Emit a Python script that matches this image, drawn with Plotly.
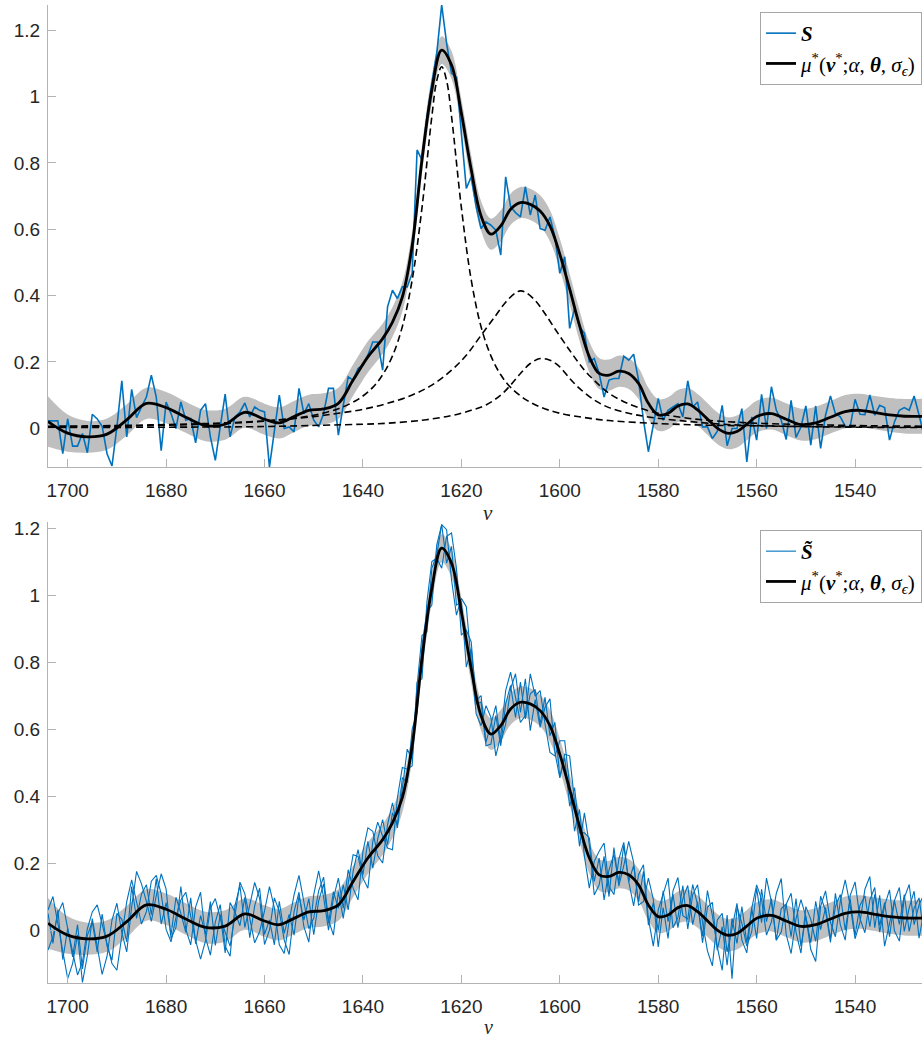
import plotly.graph_objects as go

# ---------------- data ----------------
wavenumber = list(range(1704, 1525, -1))  # 1704 ... 1526

S_top = [0.022, 0.022, 0.022, -0.077, 0.028, -0.054, -0.054, -0.016, -0.074, 0.042,
         0.028, 0.006, -0.077, -0.114, 0.004, 0.143, -0.026, 0.117, 0.032, 0.064,
         0.094, 0.160, 0.094, -0.068, 0.079, 0.044, -0.001, 0.079, 0.024, 0.029,
         -0.044, 0.054, 0.074, -0.026, -0.097, 0.004, 0.103, -0.026, 0.034, 0.049,
         0.076, 0.034, 0.064, 0.054, 0.049, -0.117, -0.01, 0.1, -0.001, 0.004,
         -0.011, 0.12, 0.044, 0.074, 0.024, 0.004, 0.044, 0.12, 0.12, -0.021,
         0.069, 0.155, 0.145, 0.18, 0.19, 0.22, 0.26, 0.26, 0.175, 0.366,
         0.416, 0.391, 0.426, 0.426, 0.467, 0.839, 0.808, 0.939, 1.04, 1.13,
         1.276, 1.16, 1.07, 1.058, 0.889, 0.723, 0.758, 0.668, 0.602, 0.622,
         0.612, 0.597, 0.522, 0.758, 0.668, 0.65, 0.637, 0.728, 0.643, 0.703,
         0.602, 0.597, 0.637, 0.577, 0.467, 0.517, 0.301, 0.361, 0.306, 0.286,
         0.2, 0.21, 0.165, 0.094, 0.145, 0.15, 0.15, 0.217, 0.205, 0.223,
         0.145, 0.024, -0.071, 0.004, 0.09, 0.024, 0.054, 0.064, 0.074, 0.034,
         0.143, 0.064, 0.079, 0.004, 0.004, -0.031, -0.01, 0.069, -0.053, -0.001,
         -0.001, 0.059, -0.102, 0.034, -0.036, 0.102, -0.001, 0.125, 0.054, 0.024,
         -0.034, 0.084, -0.028, 0.004, 0.067, -0.051, 0.067, -0.061, 0.039, 0.097,
         0.044, 0.034, 0.006, 0.004, 0.087, 0.042, 0.041, 0.1, 0.039, 0.069,
         0.062, -0.036, 0.019, 0.054, 0.062, 0.054, 0.097, 0.04, -0.021]

S_rep1 = [0.05, -0.04, 0.06, -0.088, 0.005, -0.08, 0.016, -0.116, -0.016, 0.024,
          -0.065, 0.048, -0.048, -0.09, 0.05, 0.032, -0.035, 0.13, 0.035, 0.108,
          0.135, 0.046, 0.153, 0.018, 0.082, -0.015, 0.098, 0.05, -0.007, 0.096,
          -0.041, 0.043, -0.012, 0.085, -0.046, 0.046, -0.068, 0.082, 0.053, 0.013,
          0.098, -0.023, 0.072, 0.125, -0.013, 0.03, -0.044, 0.086, -0.01, 0.047,
          -0.015, 0.103, 0.03, 0.094, -0.014, 0.087, 0.138, 0.02, 0.115, 0.065,
          0.135, 0.06, 0.175, 0.24, 0.165, 0.265, 0.185, 0.272, 0.33, 0.255,
          0.35, 0.315, 0.455, 0.44, 0.6, 0.65, 0.85, 0.95, 0.97, 1.15,
          1.21, 1.095, 1.145, 0.97, 0.98, 0.785, 0.84, 0.675, 0.68, 0.55,
          0.555, 0.64, 0.55, 0.675, 0.73, 0.635, 0.74, 0.63, 0.705, 0.718,
          0.615, 0.695, 0.58, 0.62, 0.455, 0.515, 0.37, 0.425, 0.29, 0.29,
          0.275, 0.145, 0.215, 0.09, 0.18, 0.226, 0.142, 0.252, 0.145, 0.192,
          0.085, 0.175, 0.015, 0.082, 0.0, 0.117, 0.025, 0.107, 0.007, 0.093,
          0.133, 0.016, 0.085, -0.038, 0.068, 0.083, -0.06, 0.01, -0.105, 0.035,
          -0.04, 0.07, -0.038, 0.065, -0.025, 0.122, 0.025, 0.094, -0.03, 0.064,
          0.077, -0.02, 0.094, -0.049, 0.04, -0.038, 0.086, 0.001, 0.067, -0.027,
          0.07, 0.106, 0.0, 0.093, -0.016, 0.074, 0.102, 0.01, 0.107, 0.014,
          0.082, -0.02, 0.088, 0.017, 0.106, -0.004, 0.066, 0.096, -0.014]

S_rep2 = [-0.06, -0.02, 0.05, 0.082, 0.005, -0.06, -0.134, -0.096, 0.004, 0.054,
          0.075, 0.018, -0.038, -0.1, -0.12, -0.018, 0.085, 0.15, 0.085, 0.018,
          0.055, 0.146, 0.163, 0.108, 0.002, -0.035, 0.038, 0.09, 0.113, 0.046,
          -0.031, -0.087, -0.032, 0.065, 0.094, 0.036, -0.008, -0.048, 0.043, 0.143,
          0.108, 0.037, -0.038, -0.005, 0.057, 0.13, 0.066, -0.044, -0.07, 0.027,
          0.105, 0.163, 0.08, 0.004, 0.036, 0.117, 0.158, 0.03, -0.015, 0.115,
          0.035, 0.14, 0.225, 0.22, 0.155, 0.125, 0.265, 0.322, 0.28, 0.245,
          0.24, 0.395, 0.485, 0.48, 0.49, 0.73, 0.88, 0.89, 1.08, 1.12,
          1.21, 1.195, 1.045, 0.94, 0.99, 0.965, 0.8, 0.645, 0.61, 0.67,
          0.635, 0.52, 0.58, 0.715, 0.77, 0.695, 0.62, 0.64, 0.765, 0.698,
          0.715, 0.615, 0.53, 0.52, 0.565, 0.565, 0.43, 0.295, 0.36, 0.22,
          0.125, 0.205, 0.235, 0.26, 0.13, 0.106, 0.212, 0.262, 0.145, 0.072,
          0.165, 0.195, 0.035, -0.048, 0.06, 0.107, 0.155, 0.007, 0.037, 0.133,
          0.003, 0.106, 0.135, 0.022, -0.062, -0.107, 0.03, 0.05, -0.065, 0.005,
          0.08, -0.03, -0.068, 0.065, 0.135, 0.092, -0.015, 0.024, 0.11, 0.154,
          -0.013, -0.07, 0.034, 0.091, 0.04, -0.058, -0.094, 0.071, 0.117, 0.023,
          -0.02, 0.086, 0.15, 0.073, -0.026, 0.024, 0.122, 0.16, 0.007, 0.104,
          -0.048, 0.02, 0.088, 0.127, -0.004, 0.066, 0.116, -0.024, 0.056]

S_rep3 = [0.06, 0.1, 0.02, -0.068, -0.145, -0.1, -0.014, -0.156, -0.076, 0.034,
          -0.055, -0.132, -0.078, 0.03, 0.08, -0.008, -0.065, 0.07, 0.175, 0.138,
          0.085, 0.026, 0.103, 0.168, 0.122, -0.025, 0.008, 0.13, 0.003, -0.044,
          0.069, 0.113, -0.022, -0.075, 0.024, 0.076, -0.048, -0.078, 0.073, 0.133,
          0.008, 0.077, 0.142, 0.095, -0.043, 0.0, 0.096, 0.056, -0.03, -0.073,
          0.055, 0.113, 0.01, -0.036, 0.106, 0.177, 0.098, 0.0, 0.095, 0.155,
          0.065, 0.18, 0.125, 0.09, 0.235, 0.305, 0.295, 0.222, 0.2, 0.315,
          0.38, 0.305, 0.425, 0.54, 0.51, 0.74, 0.75, 0.98, 1.1, 1.11,
          1.08, 1.175, 1.185, 1.08, 0.88, 0.895, 0.86, 0.685, 0.7, 0.56,
          0.615, 0.67, 0.56, 0.615, 0.72, 0.765, 0.65, 0.75, 0.595, 0.688,
          0.605, 0.665, 0.69, 0.53, 0.455, 0.525, 0.52, 0.385, 0.25, 0.35,
          0.255, 0.105, 0.135, 0.22, 0.1, 0.246, 0.132, 0.192, 0.265, 0.202,
          0.075, 0.085, 0.155, 0.092, -0.05, 0.067, -0.025, 0.117, 0.157, 0.043,
          0.033, 0.136, 0.075, -0.018, 0.118, 0.043, -0.05, -0.12, 0.045, -0.145,
          0.07, 0.02, -0.048, -0.005, 0.125, 0.022, 0.155, 0.084, -0.03, -0.006,
          0.077, 0.11, -0.006, -0.069, 0.07, 0.032, -0.034, 0.101, 0.057, -0.037,
          0.11, 0.016, -0.03, 0.103, 0.144, 0.034, -0.008, 0.09, 0.127, -0.006,
          0.072, 0.12, -0.002, -0.033, 0.096, 0.136, 0.016, 0.076, 0.106]

# posterior mean mu* and its band half-width
mu_x = [1704, 1700, 1696, 1692, 1688, 1684, 1680, 1676, 1672, 1668,
        1664, 1660, 1657, 1654, 1651, 1648, 1645, 1642, 1639, 1636,
        1634, 1632, 1630, 1628, 1626, 1624, 1622, 1620, 1618, 1616,
        1614, 1612, 1610, 1608, 1606, 1604, 1602, 1600, 1598, 1596,
        1594, 1592, 1590, 1588, 1586, 1584, 1582, 1580, 1578, 1576,
        1574, 1572, 1570, 1568, 1566, 1564, 1562, 1560, 1557, 1554,
        1551, 1548, 1545, 1542, 1539, 1536, 1533, 1530, 1526]
mu_y = [0.02, -0.015, -0.026, -0.018, 0.025, 0.075, 0.062, 0.033, 0.008, 0.012,
        0.048, 0.027, 0.016, 0.035, 0.054, 0.058, 0.075, 0.145, 0.215, 0.27,
        0.32, 0.395, 0.55, 0.81, 1.02, 1.14, 1.095, 0.95, 0.78, 0.64,
        0.585, 0.61, 0.66, 0.68, 0.675, 0.655, 0.61, 0.525, 0.42, 0.31,
        0.215, 0.165, 0.16, 0.172, 0.165, 0.135, 0.075, 0.04, 0.045, 0.067,
        0.073, 0.055, 0.028, 0.0, -0.015, -0.01, 0.012, 0.035, 0.044, 0.027,
        0.011, 0.016, 0.033, 0.05, 0.054, 0.047, 0.04, 0.036, 0.036]
mu_sd = [0.076, 0.056, 0.048, 0.047, 0.047, 0.047, 0.047, 0.047, 0.047, 0.047,
         0.047, 0.047, 0.047, 0.047, 0.047, 0.047, 0.047, 0.047, 0.047, 0.046,
         0.045, 0.044, 0.042, 0.042, 0.042, 0.042, 0.042, 0.042, 0.043, 0.045,
         0.047, 0.047, 0.047, 0.047, 0.047, 0.047, 0.047, 0.047, 0.046, 0.046,
         0.046, 0.047, 0.047, 0.047, 0.047, 0.047, 0.047, 0.048, 0.048, 0.048,
         0.048, 0.048, 0.048, 0.048, 0.048, 0.048, 0.048, 0.048, 0.048, 0.048,
         0.048, 0.049, 0.049, 0.05, 0.05, 0.05, 0.051, 0.052, 0.053]

# fitted component peaks (dashed)
peak1_x = [1704, 1690, 1680, 1670, 1660, 1655, 1650, 1645, 1641, 1638, 1636, 1634, 1632,
           1630, 1628, 1626, 1625, 1624, 1623, 1622, 1620, 1618, 1616, 1614, 1612, 1610,
           1607, 1604, 1600, 1595, 1590, 1580, 1570, 1560, 1550, 1540, 1526]
peak1_y = [0.004, 0.006, 0.009, 0.013, 0.021, 0.028, 0.039, 0.059, 0.087, 0.123, 0.161, 0.218, 0.306,
           0.447, 0.665, 0.94, 1.048, 1.09, 1.048, 0.94, 0.665, 0.447, 0.306, 0.218, 0.161, 0.123,
           0.087, 0.064, 0.045, 0.032, 0.023, 0.014, 0.009, 0.007, 0.005, 0.004, 0.003]
peak2_x = [1704, 1690, 1680, 1670, 1660, 1650, 1645, 1640, 1635, 1630, 1626, 1622, 1619,
           1616, 1613, 1611, 1609, 1608, 1607, 1605, 1603, 1601, 1598, 1595, 1592, 1590,
           1587, 1584, 1580, 1575, 1570, 1560, 1550, 1540, 1526]
peak2_y = [0.006, 0.008, 0.011, 0.015, 0.022, 0.035, 0.045, 0.057, 0.075, 0.1, 0.13, 0.175, 0.22,
           0.28, 0.34, 0.38, 0.408, 0.414, 0.41, 0.385, 0.345, 0.3, 0.235, 0.175, 0.13, 0.105,
           0.08, 0.062, 0.045, 0.032, 0.024, 0.015, 0.011, 0.008, 0.006]
peak3_x = [1704, 1680, 1660, 1648, 1640, 1635, 1628, 1622, 1618, 1615, 1612, 1610, 1608,
           1606, 1604, 1602, 1600, 1598, 1596, 1593, 1590, 1586, 1582, 1575, 1566, 1555,
           1540, 1526]
peak3_y = [0.002, 0.003, 0.005, 0.009, 0.012, 0.015, 0.024, 0.038, 0.054, 0.07, 0.1, 0.13, 0.165,
           0.195, 0.21, 0.205, 0.185, 0.15, 0.12, 0.085, 0.062, 0.045, 0.034, 0.022, 0.011, 0.006,
           0.003, 0.002]

x_ticks = [1700, 1680, 1660, 1640, 1620, 1600, 1580, 1560, 1540]
y_ticks = [0, 0.2, 0.4, 0.6, 0.8, 1.0, 1.2]
y_ticktext = ["0", "0.2", "0.4", "0.6", "0.8", "1", "1.2"]

# ---------------- style ----------------
BLUE = "#0072BD"
BAND = "#bfbfbf"
AXIS = "#b3b3b3"
TXT = "#262626"
SANS = "Liberation Sans, Arial, sans-serif"
SERIF = "Liberation Serif, Times New Roman, serif"

band_hi = [m + s for m, s in zip(mu_y, mu_sd)]
band_lo = [m - s for m, s in zip(mu_y, mu_sd)]

fig = go.Figure()


def add_band(xa, ya):
    fig.add_trace(go.Scatter(x=mu_x, y=band_lo, mode="lines", line=dict(width=0, shape="spline", color=BAND),
                             showlegend=False, hoverinfo="skip", xaxis=xa, yaxis=ya))
    fig.add_trace(go.Scatter(x=mu_x, y=band_hi, mode="lines", line=dict(width=0, shape="spline", color=BAND),
                             fill="tonexty", fillcolor=BAND, showlegend=False, hoverinfo="skip",
                             xaxis=xa, yaxis=ya))


MU_NAME = ("<i>μ</i><sup>*</sup>(<b><i>ν</i></b><sup>*</sup>;<i>α</i>, <b><i>θ</i></b>, "
           "<i>σ</i><sub><i>ϵ</i></sub>)")

# top panel
add_band("x", "y")
fig.add_trace(go.Scatter(x=wavenumber, y=S_top, mode="lines", line=dict(color=BLUE, width=1.6),
                         name="<b><i>S</i></b>", legend="legend", xaxis="x", yaxis="y"))
fig.add_trace(go.Scatter(x=mu_x, y=mu_y, mode="lines", line=dict(color="black", width=2.8, shape="spline"),
                         name=MU_NAME, legend="legend", xaxis="x", yaxis="y"))
for px, py_ in [(peak1_x, peak1_y), (peak2_x, peak2_y), (peak3_x, peak3_y)]:
    fig.add_trace(go.Scatter(x=px, y=py_, mode="lines",
                             line=dict(color="black", width=1.6, dash="7px,4px", shape="spline"),
                             showlegend=False, xaxis="x", yaxis="y"))

# bottom panel
add_band("x2", "y2")
for i, rep in enumerate([S_rep1, S_rep2, S_rep3]):
    fig.add_trace(go.Scatter(x=wavenumber, y=rep, mode="lines", line=dict(color=BLUE, width=1.1),
                             name="<b><i>S\u0303</i></b>", showlegend=(i == 0), legend="legend2",
                             xaxis="x2", yaxis="y2"))
fig.add_trace(go.Scatter(x=mu_x, y=mu_y, mode="lines", line=dict(color="black", width=2.8, shape="spline"),
                         name=MU_NAME, legend="legend2", xaxis="x2", yaxis="y2"))

# ---------------- layout ----------------
W, H = 922, 1040
mt, mb = 5, 57
ph = H - mt - mb


def py(px_from_top):
    return (H - mb - px_from_top) / ph


xcommon = dict(range=[1704, 1526.4], tickvals=x_ticks, ticktext=[str(v) for v in x_ticks],
               ticks="inside", ticklen=8, tickwidth=1, tickcolor=AXIS, showline=True, linecolor=AXIS,
               linewidth=1, showgrid=False, zeroline=False, tickfont=dict(family=SANS, size=19, color=TXT),
               ticklabelstandoff=6, fixedrange=True)
ycommon = dict(tickvals=y_ticks, ticktext=y_ticktext, ticks="inside", ticklen=8, tickwidth=1,
               tickcolor=AXIS, showline=True, linecolor=AXIS, linewidth=1, showgrid=False, zeroline=False,
               tickfont=dict(family=SANS, size=19, color=TXT), ticklabelstandoff=3, fixedrange=True)

legend_common = dict(x=1, xanchor="right", yanchor="top", bgcolor="white", bordercolor="#a6a6a6",
                     borderwidth=1, font=dict(family=SERIF, size=21, color="black"),
                     itemwidth=30, tracegroupgap=0, traceorder="normal")

fig.update_layout(
    width=W, height=H,
    margin=dict(l=48, r=0, t=mt, b=mb),
    paper_bgcolor="white", plot_bgcolor="white",
    xaxis=dict(domain=[0, 1], anchor="y", **xcommon),
    yaxis=dict(domain=[py(467), 1], anchor="x", range=[-0.117, 1.276], **ycommon),
    xaxis2=dict(domain=[0, 1], anchor="y2", **xcommon),
    yaxis2=dict(domain=[0, py(522)], anchor="x2", range=[-0.158, 1.218], **ycommon),
    legend=dict(y=py(12), **legend_common),
    legend2=dict(y=py(530), **legend_common),
    annotations=[
        dict(text="<i>ν</i>", x=(488 - 48) / (W - 48), y=py(513), xref="paper", yref="paper",
             showarrow=False, font=dict(family=SERIF, size=21, color=TXT), yanchor="middle"),
        dict(text="<i>ν</i>", x=(488 - 48) / (W - 48), y=py(1027), xref="paper", yref="paper",
             showarrow=False, font=dict(family=SERIF, size=20, color=TXT), yanchor="middle"),
    ],
)

fig.write_html("out.html")
